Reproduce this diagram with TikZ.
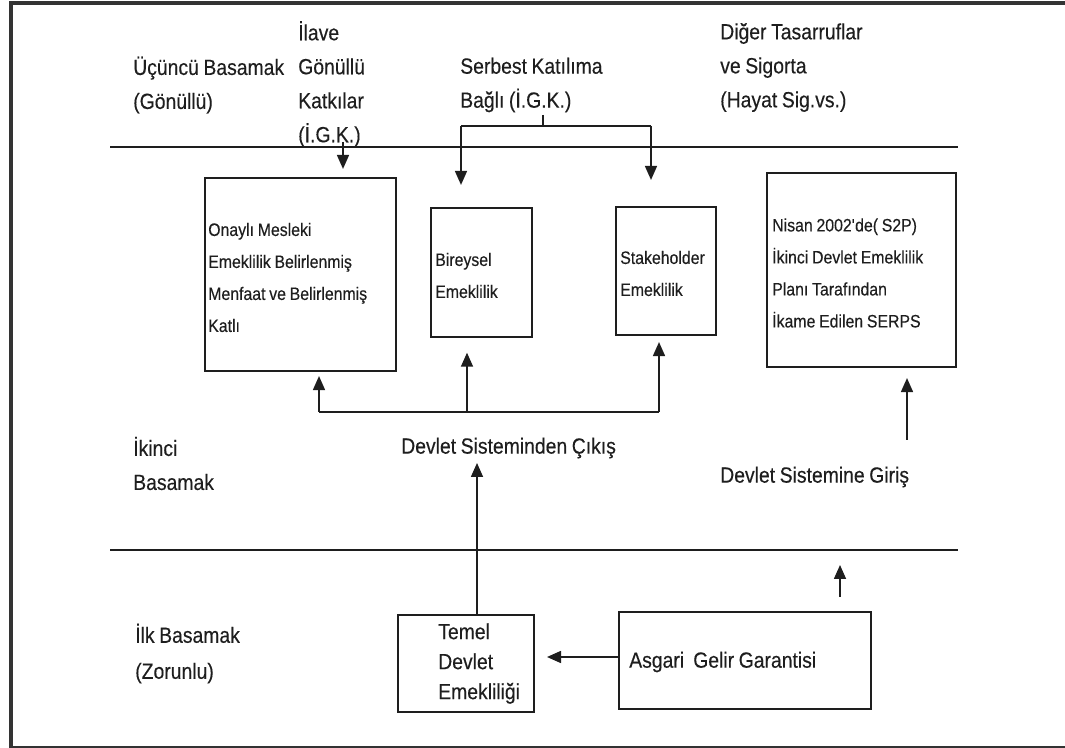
\documentclass[tikz,border=0pt]{standalone}
\usepackage{fontspec}
\setmainfont{Liberation Sans}[FakeStretch=0.88,WordSpace=0.85,FakeBold=0.25]
\usetikzlibrary{arrows.meta}
\definecolor{ink}{HTML}{1E1E1E}
\definecolor{framegray}{HTML}{333333}
\begin{document}
\begin{tikzpicture}[x=0.75pt,y=-0.75pt,
  line/.style={draw=ink,line width=1.3pt},
  arr/.style={draw=ink,line width=1.2pt,-{Triangle[width=9pt,length=10.5pt]}},
  sep/.style={draw=ink,line width=2pt},
  box/.style={draw=ink,line width=1.6pt,inner sep=0pt},
  lbl/.style={anchor=west,align=left,inner sep=0pt,text=ink,font=\fontsize{16.5}{25.5}\selectfont},
  small/.style={anchor=west,align=left,inner sep=0pt,text=ink,font=\fontsize{13.5}{24}\selectfont},
  large/.style={anchor=west,align=left,inner sep=0pt,text=ink,font=\fontsize{16.5}{22.5}\selectfont},
]
\useasboundingbox (0,0) rectangle (1065,748);
\fill[white] (0,0) rectangle (1065,748);
% page frame
\fill[framegray] (9,1.5) rectangle (1065,5.5);
\fill[framegray] (9,1.5) rectangle (13,748);
\fill[framegray] (9,745.5) rectangle (1065,748);

% tier separators
\coordinate (s3L) at (110,147);
\coordinate (s3R) at (958,147);
\coordinate (s1L) at (110,550);
\coordinate (s1R) at (958,550);
\draw[sep] (s3L) -- (s3R);
\draw[sep] (s1L) -- (s1R);

% tier labels and headings
\node[lbl] (t3) at (133,85) {Üçüncü Basamak\\(Gönüllü)};
\node[lbl] (ilave) at (298,84) {İlave\\Gönüllü\\Katkılar\\(İ.G.K.)};
\node[lbl] (serbest) at (460,85) {Serbest Katılıma\\Bağlı (İ.G.K.)};
\node[lbl] (diger) at (720,67.5) {Diğer Tasarruflar\\ve Sigorta\\(Hayat Sig.vs.)};
\node[lbl] (t2) at (133,463.5) {İkinci\\Basamak};
\node[lbl] (cikis) at (401,448) {Devlet Sisteminden Çıkış};
\node[lbl] (giris) at (720,477) {Devlet Sistemine Giriş};
\node[lbl,font=\fontsize{16.5}{27}\selectfont] (t1) at (135,653.5) {İlk Basamak\\(Zorunlu)};

% second tier boxes
\node[box,minimum width=143.25pt,minimum height=144.75pt] (b1) at (300.5,274.5) {};
\node[box,minimum width=75.75pt,minimum height=96.75pt] (b2) at (481.5,272.5) {};
\node[box,minimum width=75pt,minimum height=96pt] (b3) at (666,271) {};
\node[box,minimum width=141.75pt,minimum height=145.5pt] (b4) at (861.5,270) {};
\node[small] (b1t) at (208,277.5) {Onaylı Mesleki\\Emeklilik Belirlenmiş\\Menfaat ve Belirlenmiş\\Katlı};
\node[small] (b2t) at (435,275.5) {Bireysel\\Emeklilik};
\node[small] (b3t) at (620,273.5) {Stakeholder\\Emeklilik};
\node[small] (b4t) at (772,273) {Nisan 2002\textquotesingle de( S2P)\\İkinci Devlet Emeklilik\\Planı Tarafından\\İkame Edilen SERPS};

% first tier boxes
\node[box,minimum width=102pt,minimum height=72.75pt] (temel) at (466,663.5) {};
\node[box,minimum width=189pt,minimum height=72.75pt] (asgari) at (745,660.5) {};
\node[large] (temelt) at (438,663.5) {Temel\\Devlet\\Emekliliği};
\node[large] (asgarit) at (629,662) {Asgari\ \ Gelir Garantisi};

% voluntary contributions
\coordinate (ilaveFoot) at (343,142);
\draw[arr,shorten >=6pt] (ilaveFoot) -- (ilaveFoot |- b1.north);

% free participation bracket
\coordinate (bagFoot) at (543,115);
\coordinate (brk) at (543,126);
\coordinate (brkL) at (461,126);
\coordinate (brkR) at (651,126);
\draw[line] (bagFoot) -- (brk);
\draw[line] (brkL) -- (brkR);
\draw[arr,shorten >=16.5pt] (brkL) -- (brkL |- b2.north);
\draw[arr,shorten >=19.5pt] (brkR) -- (brkR |- b3.north);

% contracting out bus
\coordinate (busL) at (319,412);
\coordinate (busM) at (467,412);
\coordinate (busR) at (659,412);
\draw[line] (busL) -- (busR);
\draw[arr,shorten >=3pt] (busL) -- (busL |- b1.south);
\draw[arr,shorten >=11pt] (busM) -- (busM |- b2.south);
\draw[arr,shorten >=4.5pt] (busR) -- (busR |- b3.south);

% first tier links
\coordinate (exitTip) at (477,463);
\draw[arr] (exitTip |- temel.north) -- (exitTip);
\coordinate (gTip) at (547,657);
\draw[arr] (gTip -| asgari.west) -- (gTip);
\coordinate (entTip) at (840,565);
\draw[arr,shorten <=10.5pt] (entTip |- asgari.north) -- (entTip);
\coordinate (girisFoot) at (907,440);
\draw[arr,shorten >=7.5pt] (girisFoot) -- (girisFoot |- b4.south);
\end{tikzpicture}
\end{document}
